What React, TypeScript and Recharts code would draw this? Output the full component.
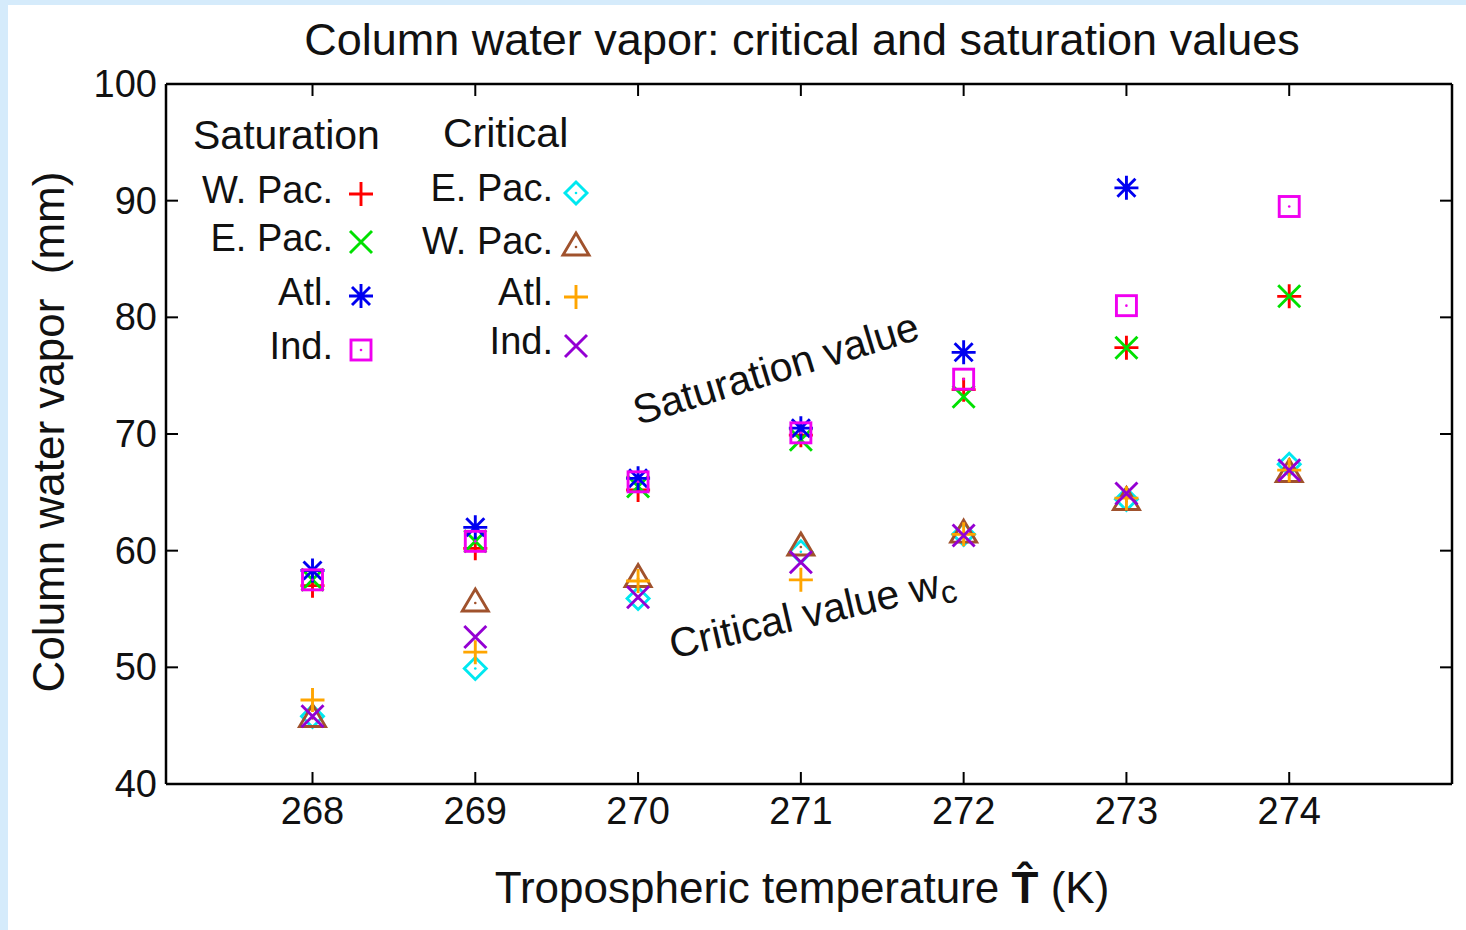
import React from 'react';
import { ScatterChart, Scatter, XAxis, YAxis } from 'recharts';

const temps = [268, 269, 270, 271, 272, 273, 274];
const xTicks = [268, 269, 270, 271, 272, 273, 274];
const yTicks = [40, 50, 60, 70, 80, 90, 100];

// saturation values (mm)
const satWPac = [57.0, 60.2, 65.2, 69.9, 73.8, 77.4, 81.8];
const satEPac = [57.5, 60.8, 65.5, 69.5, 73.2, 77.4, 81.8];
const satAtl = [58.3, 62.0, 66.2, 70.5, 77.0, 91.1, null];
const satInd = [57.5, 60.8, 65.9, 70.1, 74.7, 81.0, 89.5];

// critical values (mm)
const critEPac = [45.8, 49.9, 55.9, 59.9, 61.4, 64.4, 67.4];
const critWPac = [45.7, 55.6, 57.7, 60.4, 61.5, 64.3, 66.7];
const critAtl = [47.2, 51.3, 57.4, 57.5, 61.4, 64.5, 66.9];
const critInd = [45.8, 52.6, 56.0, 59.0, 61.3, 64.9, 66.9];

const FONT = '"Liberation Sans", Arial, Helvetica, sans-serif';
const SW = 2.9;

type Marker = 'plus' | 'cross' | 'star' | 'square' | 'diamond' | 'triangle';

function symbol(kind: Marker, cx: number, cy: number, color: string) {
  const s = 12;
  const d = 11;
  switch (kind) {
    case 'plus':
      return <path d={`M${cx - s},${cy}H${cx + s}M${cx},${cy - s}V${cy + s}`} stroke={color} strokeWidth={SW} fill="none" />;
    case 'cross':
      return <path d={`M${cx - d},${cy - d}L${cx + d},${cy + d}M${cx - d},${cy + d}L${cx + d},${cy - d}`} stroke={color} strokeWidth={SW} fill="none" />;
    case 'star':
      return (
        <path
          d={`M${cx - s},${cy}H${cx + s}M${cx},${cy - s}V${cy + s}M${cx - 9},${cy - 9}L${cx + 9},${cy + 9}M${cx - 9},${cy + 9}L${cx + 9},${cy - 9}`}
          stroke={color}
          strokeWidth={SW}
          fill="none"
        />
      );
    case 'square':
      return (
        <g>
          <rect x={cx - 10} y={cy - 10} width={20} height={20} stroke={color} strokeWidth={SW} fill="none" />
          <circle cx={cx} cy={cy} r={1.3} fill={color} />
        </g>
      );
    case 'diamond':
      return (
        <g>
          <path d={`M${cx},${cy - 11}L${cx + 11},${cy}L${cx},${cy + 11}L${cx - 11},${cy}Z`} stroke={color} strokeWidth={SW} fill="none" />
          <circle cx={cx} cy={cy} r={1.3} fill={color} />
        </g>
      );
    default:
      return (
        <g>
          <path d={`M${cx},${cy - 13}L${cx + 13},${cy + 9}L${cx - 13},${cy + 9}Z`} stroke={color} strokeWidth={SW} fill="none" />
          <circle cx={cx} cy={cy + 1} r={1.3} fill={color} />
        </g>
      );
  }
}

const series = [
  { name: 'W. Pac.', vals: satWPac, marker: 'plus' as Marker, color: '#ff0000', group: 'sat' },
  { name: 'E. Pac.', vals: satEPac, marker: 'cross' as Marker, color: '#00e000', group: 'sat' },
  { name: 'Atl.', vals: satAtl, marker: 'star' as Marker, color: '#0000f0', group: 'sat' },
  { name: 'Ind.', vals: satInd, marker: 'square' as Marker, color: '#f000f0', group: 'sat' },
  { name: 'E. Pac.', vals: critEPac, marker: 'diamond' as Marker, color: '#00e8f0', group: 'crit' },
  { name: 'W. Pac.', vals: critWPac, marker: 'triangle' as Marker, color: '#a0522d', group: 'crit' },
  { name: 'Atl.', vals: critAtl, marker: 'plus' as Marker, color: '#ffa500', group: 'crit' },
  { name: 'Ind.', vals: critInd, marker: 'cross' as Marker, color: '#9400d3', group: 'crit' },
];

const toPoints = (vals: (number | null)[]) =>
  temps.map((t, i) => ({ x: t, y: vals[i] })).filter((p) => p.y != null);

const BottomTick = (props: any) => {
  const { x, y, payload } = props;
  return (
    <g>
      <line x1={x} y1={y} x2={x} y2={y - 12} stroke="#000" strokeWidth={2} />
      <text x={x} y={y + 40} textAnchor="middle" fontSize={38} fontFamily={FONT} fill="#111">
        {payload.value}
      </text>
    </g>
  );
};

const TopTick = (props: any) => {
  const { x, y } = props;
  return <line x1={x} y1={y} x2={x} y2={y + 12} stroke="#000" strokeWidth={2} />;
};

const LeftTick = (props: any) => {
  const { x, y, payload } = props;
  return (
    <g>
      <line x1={x} y1={y} x2={x + 12} y2={y} stroke="#000" strokeWidth={2} />
      <text x={x - 9} y={y + 13} textAnchor="end" fontSize={38} fontFamily={FONT} fill="#111">
        {payload.value}
      </text>
    </g>
  );
};

const RightTick = (props: any) => {
  const { x, y } = props;
  return <line x1={x} y1={y} x2={x - 12} y2={y} stroke="#000" strokeWidth={2} />;
};

const satRows = [194, 242, 296, 350];
const critRows = [193, 246, 297, 346];

export default function App() {
  return (
    <div style={{ position: 'absolute', left: 0, top: 0, width: 1466, height: 930, background: '#d5ebfb' }}>
      <div style={{ position: 'absolute', left: 8, top: 5, width: 1458, height: 925, background: '#fff' }}>
        <ScatterChart width={1458} height={925} margin={{ top: 78, right: 13, bottom: 86, left: 98 }}>
          <XAxis
            dataKey="x"
            type="number"
            domain={[267.1, 275]}
            ticks={xTicks}
            allowDataOverflow
            height={60}
            tickSize={0}
            tickMargin={0}
            axisLine={{ stroke: '#000', strokeWidth: 2.5 }}
            tick={<BottomTick />}
          />
          <XAxis
            xAxisId="top"
            orientation="top"
            dataKey="x"
            type="number"
            domain={[267.1, 275]}
            ticks={xTicks}
            allowDataOverflow
            height={1}
            tickSize={0}
            tickMargin={0}
            axisLine={{ stroke: '#000', strokeWidth: 2.5 }}
            tick={<TopTick />}
          />
          <YAxis
            dataKey="y"
            type="number"
            domain={[40, 100]}
            ticks={yTicks}
            allowDataOverflow
            width={60}
            tickSize={0}
            tickMargin={0}
            axisLine={{ stroke: '#000', strokeWidth: 2.5 }}
            tick={<LeftTick />}
          />
          <YAxis
            yAxisId="right"
            orientation="right"
            dataKey="y"
            type="number"
            domain={[40, 100]}
            ticks={yTicks}
            allowDataOverflow
            width={1}
            tickSize={0}
            tickMargin={0}
            axisLine={{ stroke: '#000', strokeWidth: 2.5 }}
            tick={<RightTick />}
          />
          {series.map((s, i) => (
            <Scatter
              key={i}
              name={`${s.group} ${s.name}`}
              data={toPoints(s.vals)}
              isAnimationActive={false}
              shape={(p: any) => symbol(s.marker, p.cx, p.cy, s.color)}
            />
          ))}
        </ScatterChart>
      </div>
      <svg
        width={1466}
        height={930}
        style={{ position: 'absolute', left: 0, top: 0, pointerEvents: 'none' }}
        fontFamily={FONT}
      >
        <text x={802} y={55} textAnchor="middle" fontSize={45} fill="#111">
          Column water vapor: critical and saturation values
        </text>
        <text x={64} y={432} textAnchor="middle" fontSize={44} fill="#111" transform="rotate(-90 64 432)">
          Column water vapor{'\u00a0\u00a0'}(mm)
        </text>
        <text x={802} y={903} textAnchor="middle" fontSize={44} fill="#111">
          Tropospheric temperature <tspan fontWeight="bold">T̂</tspan> (K)
        </text>

        <text x={193} y={149} fontSize={41} fill="#111">Saturation</text>
        <text x={443} y={147} fontSize={41} fill="#111">Critical</text>
        {series.filter((s) => s.group === 'sat').map((s, i) => (
          <g key={`ls${i}`}>
            <text x={333} y={satRows[i] + 9} textAnchor="end" fontSize={38} fill="#111">{s.name}</text>
            {symbol(s.marker, 361, satRows[i], s.color)}
          </g>
        ))}
        {series.filter((s) => s.group === 'crit').map((s, i) => (
          <g key={`lc${i}`}>
            <text x={553} y={critRows[i] + 8} textAnchor="end" fontSize={38} fill="#111">{s.name}</text>
            {symbol(s.marker, 576, critRows[i], s.color)}
          </g>
        ))}

        <text x={780} y={382} textAnchor="middle" fontSize={41} fill="#111" transform="rotate(-17 780 382)">
          Saturation value
        </text>
        <text x={815} y={626} textAnchor="middle" fontSize={41} fill="#111" transform="rotate(-13 815 626)">
          Critical value w<tspan fontSize={32} dy={8}>c</tspan>
        </text>
      </svg>
    </div>
  );
}
